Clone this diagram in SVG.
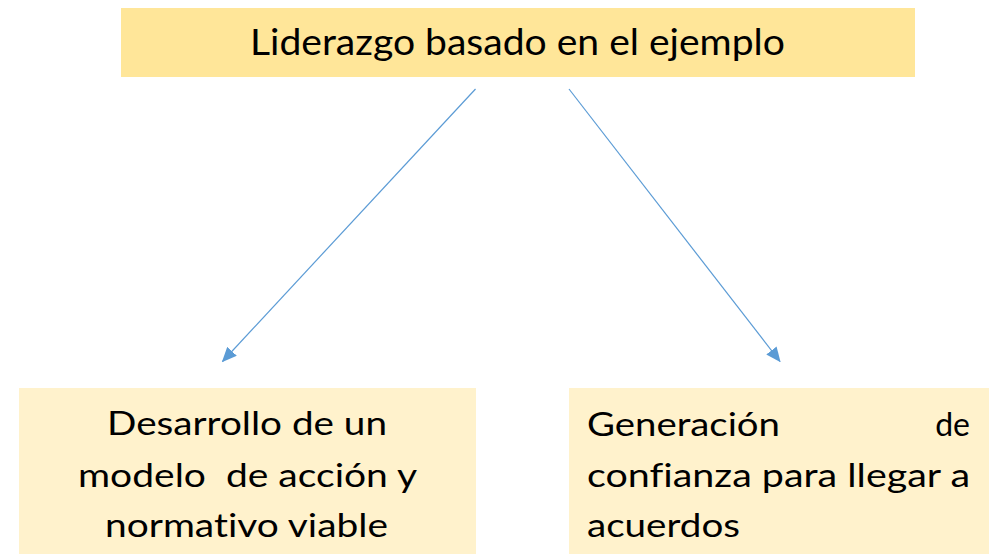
<svg xmlns="http://www.w3.org/2000/svg" width="989" height="554" viewBox="0 0 989 554">
<defs>
<style>
.t{font-family:Lato,"Liberation Sans",sans-serif;fill:#000;font-variant-ligatures:none}
.big{font-size:36px}
.mid{font-size:32px}
.conn{stroke:#5B9BD5;stroke-width:1.2;fill:none}
</style>
<marker id="ah" viewBox="0 0 15 13" refX="14" refY="6.5" markerWidth="15" markerHeight="13" markerUnits="userSpaceOnUse" orient="auto">
<path d="M0,0 L15,6.5 L0,13 Z" fill="#5B9BD5"/>
</marker>
</defs>
<rect width="989" height="554" fill="#fff"/>
<g id="node-top">
<rect x="121" y="8" width="794" height="69" fill="#FFE699"/>
<text class="t big" x="250" y="55" textLength="535" lengthAdjust="spacingAndGlyphs">Liderazgo basado en el ejemplo</text>
</g>
<g id="node-left">
<rect x="19" y="388" width="457" height="166" fill="#FFF2CC"/>
<text class="t mid" x="107" y="435" textLength="280" lengthAdjust="spacingAndGlyphs">Desarrollo de un</text>
<text class="t mid" x="78" y="487" textLength="339" lengthAdjust="spacingAndGlyphs" xml:space="preserve">modelo  de acción y</text>
<text class="t mid" x="105" y="537" textLength="283" lengthAdjust="spacingAndGlyphs">normativo viable</text>
</g>
<g id="node-right">
<rect x="569" y="388" width="420" height="166" fill="#FFF2CC"/>
<text class="t mid" x="587" y="436" textLength="193" lengthAdjust="spacingAndGlyphs">Generación</text>
<text class="t mid" x="970" y="436" text-anchor="end">de</text>
<text class="t mid" x="587" y="487" textLength="383" lengthAdjust="spacingAndGlyphs">confianza para llegar a</text>
<text class="t mid" x="587" y="537" textLength="153" lengthAdjust="spacingAndGlyphs">acuerdos</text>
</g>
<g id="connectors">
<line class="conn" x1="475.5" y1="89" x2="222.5" y2="361.5" marker-end="url(#ah)"/>
<line class="conn" x1="569" y1="89" x2="780" y2="361.5" marker-end="url(#ah)"/>
</g>
</svg>
